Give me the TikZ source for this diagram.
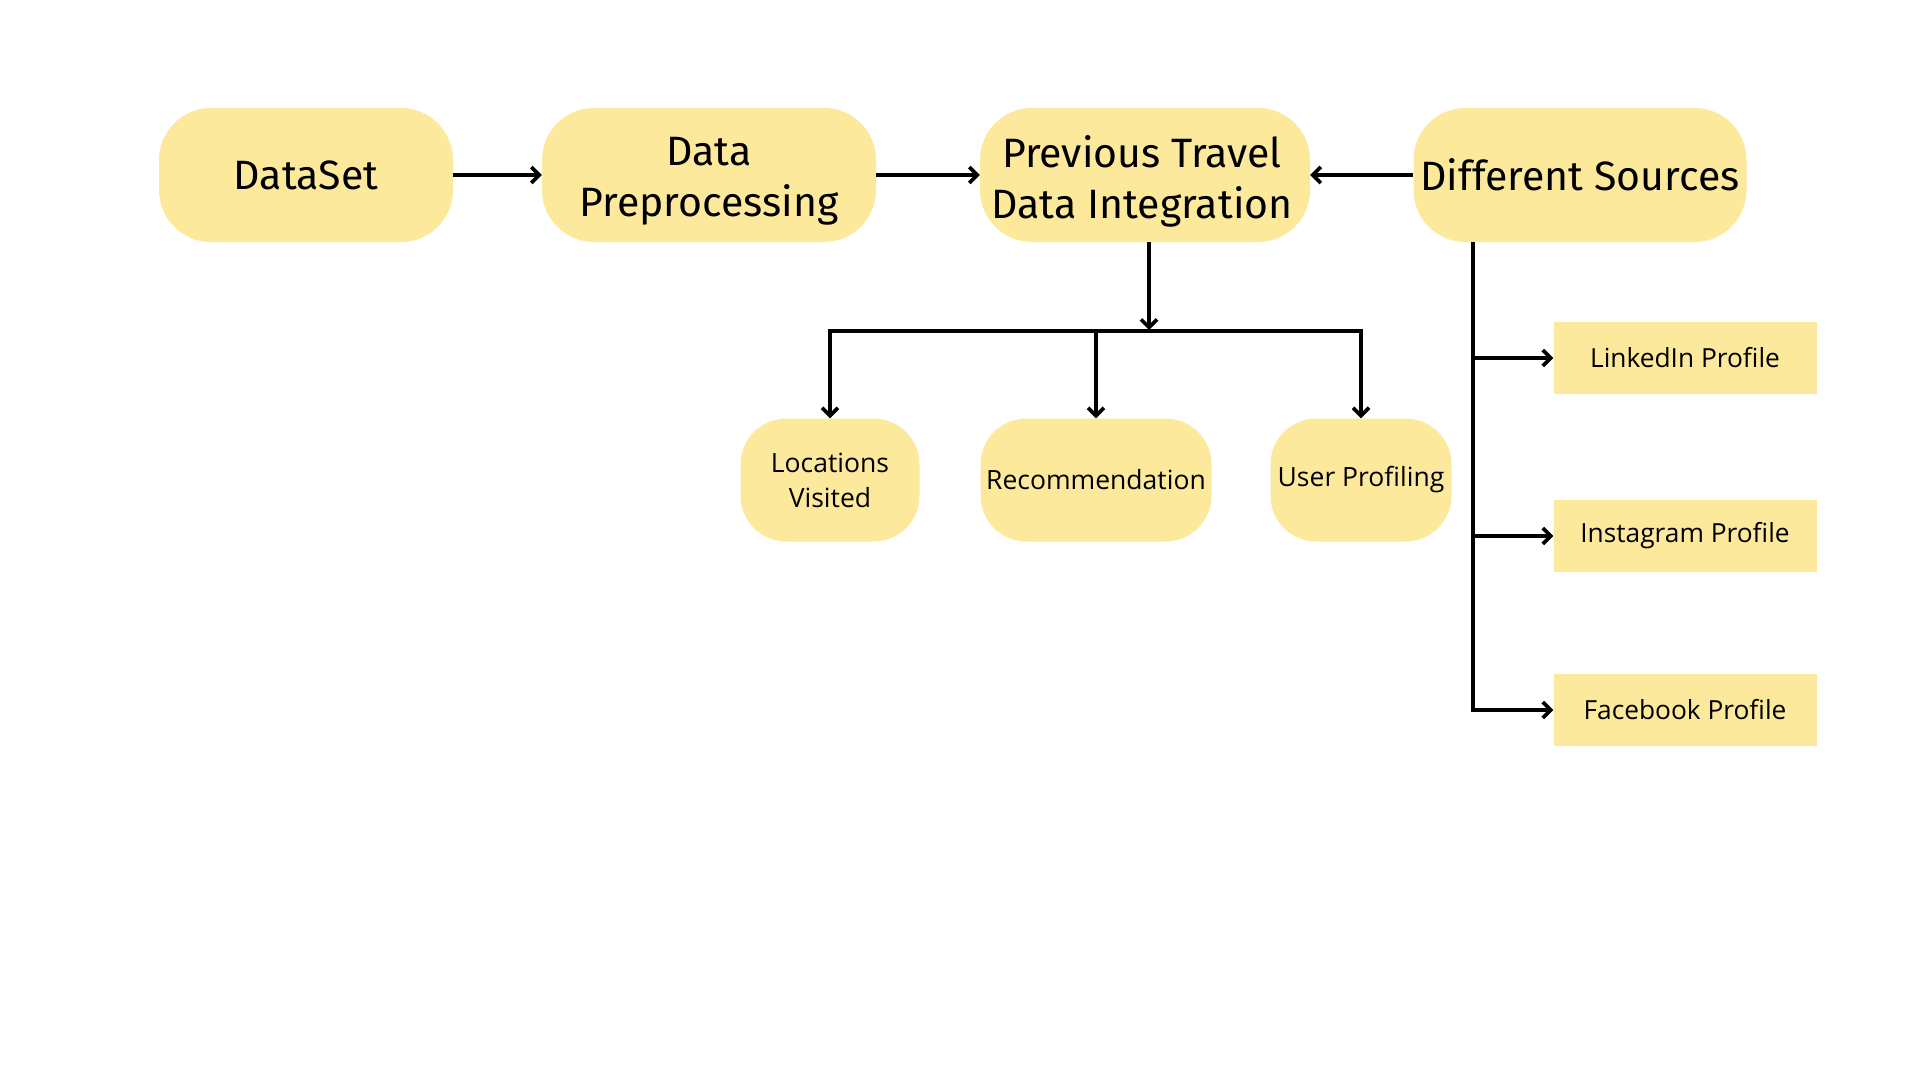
\documentclass[tikz,border=0pt]{standalone}
\usepackage{fontspec}
\setmainfont{Open Sans}
\newfontfamily\bigfont{Fira Sans}
\usetikzlibrary{arrows.meta}
\definecolor{boxyellow}{HTML}{FDE99B}
\tikzset{
  bigbox/.style={fill=boxyellow, rounded corners=52pt, minimum height=134pt, inner sep=0pt, align=center, font=\bigfont\fontsize{41}{51}\selectfont},
  bigtext/.style={inner sep=0pt, align=center, font=\bigfont\fontsize{41}{51}\selectfont},
  smallbox/.style={fill=boxyellow, rounded corners=46pt, minimum height=123pt, inner sep=0pt, align=center, font=\fontsize{26.5}{35}\selectfont},
  rectbox/.style={fill=boxyellow, minimum width=263pt, minimum height=72pt, inner sep=0pt, font=\fontsize{26.3}{30}\selectfont},
  arr/.style={line width=3.8pt, -{Straight Barb[length=8pt,width=16pt,line width=3.6pt]}},
  ln/.style={line width=3.8pt}
}
\begin{document}
\begin{tikzpicture}[x=1pt,y=-1pt]
\fill[white] (0,0) rectangle (1920,1080);
\useasboundingbox (0,0) rectangle (1920,1080);
\node[bigbox, minimum width=294pt] (ds0) at (306,175) {DataSet};
\node[bigbox, minimum width=334pt] (dp) at (709,175) {};
\node[bigtext] (dpt) at ([yshift=-6pt]dp.center) {Data\\Preprocessing};
\node[bigbox, minimum width=330pt] (pt) at (1145,175) {};
\node[bigtext] (ptt) at ([yshift=-6pt,xshift=-3pt]pt.center) {Previous Travel\\Data Integration};
\node[bigbox, minimum width=333pt] (ds) at (1580,175) {Different Sources};
\node[smallbox, minimum width=179pt] (lv) at (830,480) {Locations\\Visited};
\node[smallbox, minimum width=231pt] (rec) at (1096,480) {Recommendation};
\node[smallbox, minimum width=181pt] (up) at (1361,480) {User Profiling};
\node[rectbox] (li) at (1685,358) {LinkedIn Profile};
\node[rectbox] (ig) at (1685,536) {Instagram Profile};
\node[rectbox] (fb) at (1685,710) {Facebook Profile};
\draw[arr] (ds0.east) -- (dp.west);
\draw[arr] (dp.east) -- (pt.west);
\draw[arr] (ds.west) -- (pt.east);
\coordinate (j) at (1149,331);
\draw[arr] (pt.south -| j) -- ([yshift=1pt]j);
\draw[ln] ([xshift=-1.9pt]lv.north |- j) -- ([xshift=1.9pt]up.north |- j);
\draw[arr] (lv.north |- j) -- (lv.north);
\draw[arr] (rec.north |- j) -- (rec.north);
\draw[arr] (up.north |- j) -- (up.north);
\coordinate (b0) at (1473,242);
\draw[arr] (b0) |- (fb.west);
\draw[arr] (b0 |- li.west) -- (li.west);
\draw[arr] (b0 |- ig.west) -- (ig.west);
\end{tikzpicture}
\end{document}
